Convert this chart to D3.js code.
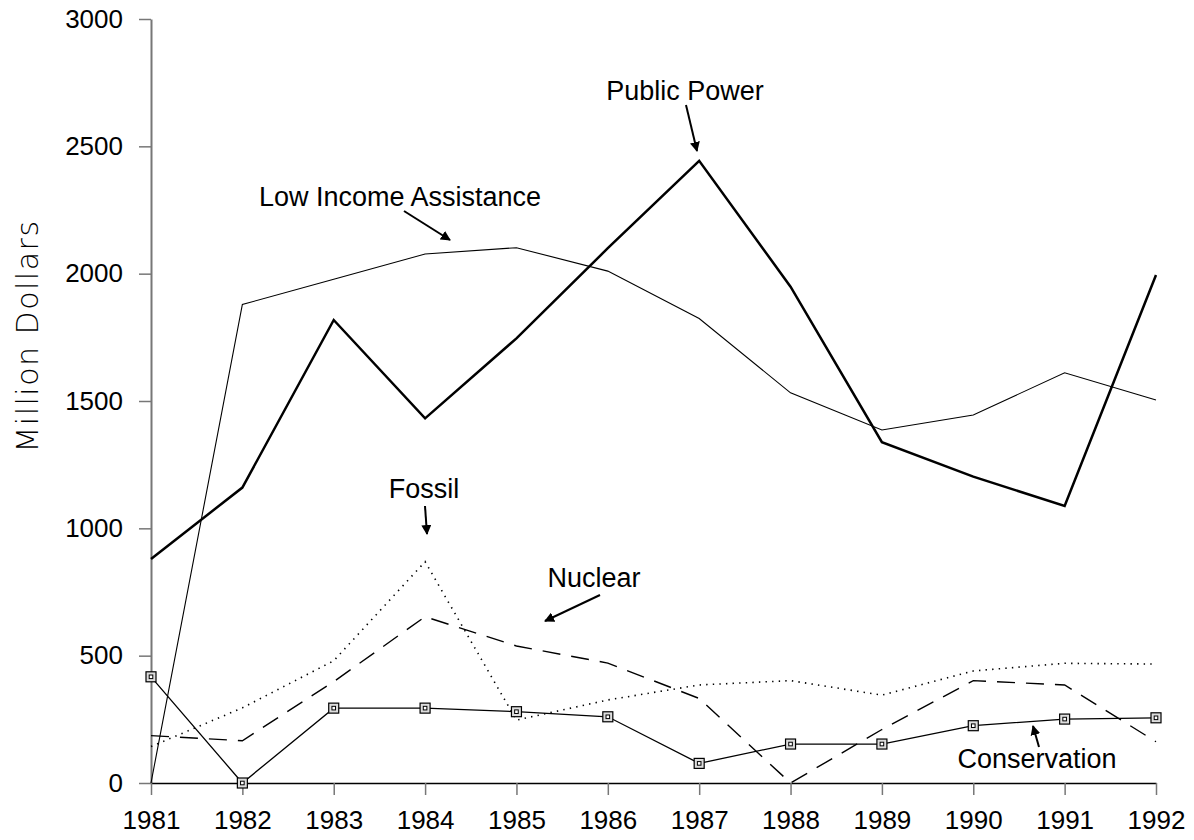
<!DOCTYPE html>
<html>
<head>
<meta charset="utf-8">
<script src="https://cdn.jsdelivr.net/npm/d3@7"></script>
<style>
  body { margin: 0; background: #fff; }
  svg { display: block; font-family: "Liberation Sans", Arial, sans-serif; }
</style>
</head>
<body>
<div id="chart"></div>
<script>
// chart data
const YEARS = [1981, 1982, 1983, 1984, 1985, 1986, 1987, 1988, 1989, 1990, 1991, 1992];
const PUBLIC_POWER = [880, 1160, 1818, 1432, 1746, 2100, 2443, 1949, 1338, 1203, 1088, 1995];
const LOW_INCOME = [0, 1879, 1978, 2077, 2102, 2010, 1824, 1532, 1386, 1445, 1611, 1504];
const FOSSIL = [143, 295, 480, 869, 247, 326, 385, 402, 345, 440, 470, 467];
const NUCLEAR = [186, 166, 398, 653, 538, 471, 332, 0, 210, 402, 385, 162];
const CONSERVATION = [417, 0, 294, 294, 280, 260, 77, 153, 153, 225, 251, 256];
const Y_TICKS = [0, 500, 1000, 1500, 2000, 2500, 3000];

const FRAME_WIDTH = 1194;
const FRAME_HEIGHT = 840;

const FRAME = d3.select("#chart")
  .append("svg")
    .attr("width", FRAME_WIDTH)
    .attr("height", FRAME_HEIGHT);

// scales
const X_SCALE = d3.scaleLinear().domain([1981, 1992]).range([151, 1156]);
const Y_SCALE = d3.scaleLinear().domain([0, 3000]).range([783, 19]);

// y axis
const yAxis = FRAME.append("g")
  .attr("transform", "translate(" + X_SCALE(1981) + ",0)")
  .call(d3.axisLeft(Y_SCALE).tickValues(Y_TICKS).tickFormat(d3.format("d"))
        .tickSize(12).tickSizeOuter(0).tickPadding(16));
yAxis.select(".domain").attr("stroke", "#777").attr("stroke-width", 2);
yAxis.selectAll(".tick line").attr("stroke", "#777").attr("stroke-width", 1.5);
yAxis.selectAll(".tick text")
  .attr("font-size", 26).attr("fill", "#000")
  .attr("font-family", "Liberation Sans, Arial, sans-serif");

// x axis
const xAxis = FRAME.append("g")
  .attr("transform", "translate(0," + Y_SCALE(0) + ")")
  .call(d3.axisBottom(X_SCALE).tickValues(YEARS).tickFormat(d3.format("d"))
        .tickSize(12).tickSizeOuter(0).tickPadding(16));
xAxis.select(".domain").attr("stroke", "#000").attr("stroke-width", 1.5);
xAxis.selectAll(".tick line").attr("stroke", "#777").attr("stroke-width", 1.5);
xAxis.selectAll(".tick text")
  .attr("font-size", 26).attr("fill", "#000")
  .attr("font-family", "Liberation Sans, Arial, sans-serif");

// y axis title
FRAME.append("text")
  .attr("transform", "translate(38,336) rotate(-90)")
  .attr("text-anchor", "middle")
  .attr("font-family", "DejaVu Sans, sans-serif")
  .attr("font-weight", 200)
  .attr("font-size", 30)
  .attr("letter-spacing", 1.5)
  .attr("fill", "#000")
  .text("Million Dollars");

// line generator
const line = d3.line()
  .x((d, i) => X_SCALE(YEARS[i]))
  .y(d => Y_SCALE(d));

const SERIES = [
  {values: LOW_INCOME, width: 1.1, dash: null},
  {values: PUBLIC_POWER, width: 2.5, dash: null},
  {values: FOSSIL, width: 1.6, dash: "1.4,5.2"},
  {values: NUCLEAR, width: 1.4, dash: "18,11"},
  {values: CONSERVATION, width: 1.3, dash: null}
];

FRAME.selectAll(".series")
  .data(SERIES)
  .enter().append("path")
    .attr("class", "series")
    .attr("d", d => line(d.values))
    .attr("fill", "none")
    .attr("stroke", "#000")
    .attr("stroke-width", d => d.width)
    .attr("stroke-dasharray", d => d.dash)
    .attr("stroke-linejoin", "miter");

// conservation markers
const markers = FRAME.selectAll(".marker")
  .data(CONSERVATION)
  .enter().append("g")
    .attr("class", "marker")
    .attr("transform", (d, i) => "translate(" + X_SCALE(YEARS[i]) + "," + Y_SCALE(d) + ")");
markers.append("rect")
  .attr("x", -5).attr("y", -5).attr("width", 10).attr("height", 10)
  .attr("fill", "#ddd").attr("stroke", "#000").attr("stroke-width", 1.2);
markers.append("rect")
  .attr("x", -1.8).attr("y", -1.8).attr("width", 3.6).attr("height", 3.6)
  .attr("fill", "#fff").attr("stroke", "#000").attr("stroke-width", 1);

// arrowhead
FRAME.append("defs").append("marker")
  .attr("id", "arrow")
  .attr("viewBox", "0 0 10 10")
  .attr("refX", 9).attr("refY", 5)
  .attr("markerWidth", 5).attr("markerHeight", 5)
  .attr("markerUnits", "strokeWidth")
  .attr("orient", "auto")
  .append("path")
    .attr("d", "M0,0 L10,5 L0,10 Z")
    .attr("fill", "#000");

// annotations
const NOTES = [
  {text: "Public Power", tx: 685, ty: 100, x1: 686, y1: 105, x2: 697, y2: 151},
  {text: "Low Income Assistance", tx: 400, ty: 206, x1: 404, y1: 211, x2: 450, y2: 240},
  {text: "Fossil", tx: 424, ty: 498, x1: 425, y1: 506, x2: 427, y2: 534},
  {text: "Nuclear", tx: 594, ty: 587, x1: 600, y1: 595, x2: 545, y2: 621},
  {text: "Conservation", tx: 1037, ty: 768, x1: 1039, y1: 747, x2: 1033, y2: 726}
];

FRAME.selectAll(".note-text")
  .data(NOTES)
  .enter().append("text")
    .attr("class", "note-text")
    .attr("x", d => d.tx)
    .attr("y", d => d.ty)
    .attr("text-anchor", "middle")
    .attr("font-size", 27)
    .attr("fill", "#000")
    .text(d => d.text);

FRAME.selectAll(".note-arrow")
  .data(NOTES)
  .enter().append("line")
    .attr("class", "note-arrow")
    .attr("x1", d => d.x1).attr("y1", d => d.y1)
    .attr("x2", d => d.x2).attr("y2", d => d.y2)
    .attr("stroke", "#000")
    .attr("stroke-width", 2)
    .attr("marker-end", "url(#arrow)");
</script>
</body>
</html>
